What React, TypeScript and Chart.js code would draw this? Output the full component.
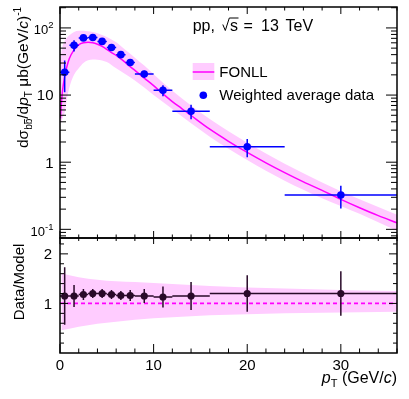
import React, { useEffect, useRef } from "react";
import { Chart, registerables } from "chart.js";

Chart.register(...registerables);

const W = 409;
const H = 399;
const FONT = '"Liberation Sans", Arial, Helvetica, sans-serif';
const BLUE = "#0000ff";
const MAGENTA = "#ff00ff";
const PINK = "#ffccff";
const DARK = "#2a0a2a";

// measured bins (GeV/c)
const binLow = [0, 1, 2, 3, 4, 5, 6, 7, 8, 10, 12, 16, 24];
const binHigh = [1, 2, 3, 4, 5, 6, 7, 8, 10, 12, 16, 24, 36];
const ptCenters = [0.5, 1.5, 2.5, 3.5, 4.5, 5.5, 6.5, 7.5, 9, 11, 14, 20, 30];

// weighted average data (µb (GeV/c)^-1)
const xsecValues = [21.9, 55, 71, 72, 63, 51, 40, 30.5, 20.6, 11.8, 5.75, 1.7, 0.325];
const xsecErrors = [10.9, 10.5, 6.6, 5.4, 4.7, 3.9, 3.1, 2.9, 2.5, 2.2, 1.4, 0.51, 0.12];

// data / model
const ratioValues = [1.15, 1.15, 1.18, 1.2, 1.2, 1.18, 1.16, 1.16, 1.15, 1.13, 1.15, 1.2, 1.2];
const ratioErrors = [0.58, 0.22, 0.11, 0.09, 0.09, 0.09, 0.09, 0.11, 0.14, 0.21, 0.28, 0.37, 0.45];

// FONLL central curve
const fonllPt = [0.05, 0.1, 0.25, 0.5, 0.75, 1, 1.5, 2, 2.5, 3, 3.5, 4, 4.5, 5, 5.5, 6, 6.5, 7, 7.5, 8, 9, 10, 11, 12, 13, 14, 16, 18, 20, 22, 24, 26, 28, 30, 32, 34, 36];
const fonllCentral = [4.5, 6, 11, 19, 27, 35, 47, 56, 60, 61, 60, 57, 53, 48, 43, 39, 34.7, 30.5, 26.5, 23.3, 17.9, 13.8, 10.4, 8.0, 6.3, 4.96, 3.1, 2.05, 1.4, 0.98, 0.7, 0.51, 0.38, 0.28, 0.21, 0.16, 0.125];

// FONLL uncertainty band
const bandPt = [0.05, 0.25, 0.5, 0.75, 1, 1.5, 2, 2.5, 3, 3.5, 4, 5, 6, 7, 8, 9, 10, 12, 14, 16, 20, 24, 28, 32, 36];
const bandUpper = [35, 52, 64, 72, 78, 87, 91, 91, 89, 87, 83, 73, 61, 47, 36, 27.5, 20.5, 11.6, 7.0, 4.4, 1.95, 0.95, 0.5, 0.28, 0.165];
const bandLower = [3.5, 4.5, 5.5, 9, 13, 20, 25, 30, 33, 34, 33.5, 31, 25, 20.5, 16.5, 13, 10, 6.2, 3.8, 2.4, 1.08, 0.53, 0.29, 0.17, 0.095];

// FONLL band relative to central
const ratioBandPt = [0.15, 1, 2, 3, 4, 5, 6, 8, 10, 12, 14, 16, 20, 24, 28, 32, 36];
const ratioBandUpper = [1.61, 1.57, 1.53, 1.5, 1.48, 1.46, 1.45, 1.43, 1.41, 1.39, 1.37, 1.35, 1.32, 1.3, 1.28, 1.26, 1.25];
const ratioBandLower = [0.46, 0.49, 0.53, 0.56, 0.59, 0.61, 0.63, 0.67, 0.7, 0.72, 0.74, 0.76, 0.78, 0.8, 0.81, 0.82, 0.83];

const xTickValues = [0, 10, 20, 30];
const ratioTickLabels = [1, 2];

type Run = { t: string; size: number; italic?: boolean; dy?: number; over?: boolean };

function drawRuns(ctx: CanvasRenderingContext2D, runs: Run[], x: number, y: number, draw = true) {
  let cx = x;
  ctx.textAlign = "left";
  ctx.textBaseline = "alphabetic";
  for (const r of runs) {
    ctx.font = `${r.italic ? "italic " : ""}${r.size}px ${FONT}`;
    const w = ctx.measureText(r.t).width;
    if (draw) {
      ctx.fillText(r.t, cx, y + (r.dy || 0));
      if (r.over) {
        ctx.fillRect(cx + 0.5, y + (r.dy || 0) - r.size * 0.8, w - 1, 0.9);
      }
    }
    cx += w;
  }
  return cx - x;
}

function line(ctx: CanvasRenderingContext2D, x1: number, y1: number, x2: number, y2: number) {
  ctx.moveTo(x1, y1);
  ctx.lineTo(x2, y2);
}

function drawErrorBars(chart: any, values: number[], errors: number[], color: string) {
  const { ctx, chartArea: a, scales } = chart;
  const x = scales.x;
  const y = scales.y;
  ctx.save();
  ctx.beginPath();
  ctx.rect(a.left, a.top, a.right - a.left, a.bottom - a.top);
  ctx.clip();
  ctx.strokeStyle = color;
  ctx.lineWidth = 1.5;
  ctx.beginPath();
  for (let i = 0; i < ptCenters.length; i++) {
    const px = x.getPixelForValue(ptCenters[i]);
    const py = y.getPixelForValue(values[i]);
    line(ctx, x.getPixelForValue(binLow[i]), py, x.getPixelForValue(binHigh[i]), py);
    line(ctx, px, y.getPixelForValue(values[i] + errors[i]), px, y.getPixelForValue(values[i] - errors[i]));
  }
  ctx.stroke();
  ctx.restore();
}

function drawXTicks(ctx: CanvasRenderingContext2D, chart: any, majB: number, minB: number, majT: number, minT: number) {
  const a = chart.chartArea;
  const x = chart.scales.x;
  for (let v = 0; v <= 36; v += 2) {
    const px = x.getPixelForValue(v);
    const major = v % 10 === 0;
    line(ctx, px, a.bottom, px, a.bottom - (major ? majB : minB));
    line(ctx, px, a.top, px, a.top + (major ? majT : minT));
  }
}

const topPlugin = {
  id: "topDecor",
  afterDatasetsDraw(chart: any) {
    drawErrorBars(chart, xsecValues, xsecErrors, BLUE);
  },
  afterDraw(chart: any) {
    const { ctx, chartArea: a, scales } = chart;
    const y = scales.y;
    ctx.save();
    ctx.strokeStyle = "#000";
    ctx.fillStyle = "#000";
    ctx.lineWidth = 1;
    ctx.beginPath();
    drawXTicks(ctx, chart, 7, 3.5, 7, 3.5);
    for (let d = -2; d <= 2; d++) {
      for (let m = 1; m <= 9; m++) {
        const v = m * Math.pow(10, d);
        if (v < y.min || v > y.max) continue;
        const py = y.getPixelForValue(v);
        const L = m === 1 ? 11 : 6;
        line(ctx, a.left, py, a.left + L, py);
        line(ctx, a.right, py, a.right - L, py);
      }
    }
    ctx.stroke();
    ctx.lineWidth = 1.5;
    ctx.strokeRect(a.left, a.top, a.right - a.left, a.bottom - a.top);

    // y tick labels
    ctx.textAlign = "right";
    ctx.textBaseline = "alphabetic";
    ctx.font = `15px ${FONT}`;
    ctx.fillText("1", 53.5, y.getPixelForValue(1) + 5.4);
    ctx.fillText("10", 53.5, y.getPixelForValue(10) + 5.4);
    const expLabel = (exp: string, v: number) => {
      const runs: Run[] = [
        { t: "10", size: 13 },
        { t: exp, size: 9.5, dy: -6 },
      ];
      const w = drawRuns(ctx, runs, 0, 0, false);
      drawRuns(ctx, runs, 53.5 - w, y.getPixelForValue(v) + 6.2);
    };
    expLabel("2", 100);
    expLabel("-1", 0.1);

    // y title (rotated)
    ctx.save();
    ctx.translate(28, 148);
    ctx.rotate(-Math.PI / 2);
    drawRuns(ctx, [
      { t: "dσ", size: 15.5 },
      { t: "b", size: 10, dy: 4 },
      { t: "b", size: 10, dy: 4, over: true },
      { t: "/d", size: 15.5 },
      { t: "p", size: 15.5, italic: true },
      { t: "T", size: 10, dy: 4 },
      { t: " μb(GeV/", size: 15.5 },
      { t: "c", size: 15.5, italic: true },
      { t: ")", size: 15.5 },
      { t: "-1", size: 10, dy: -7 },
    ], 0, 0);
    ctx.restore();

    // energy label
    ctx.font = `16px ${FONT}`;
    ctx.textAlign = "left";
    ctx.fillText("pp,", 192.7, 30.5);
    ctx.lineWidth = 1;
    ctx.beginPath();
    ctx.moveTo(222.8, 24.5);
    ctx.lineTo(225.3, 30.5);
    ctx.lineTo(229.3, 18);
    ctx.lineTo(238.5, 18);
    ctx.stroke();
    ctx.fillText("s", 230, 30.5);
    ctx.fillText("=", 243.5, 30.5);
    ctx.fillText("13", 261, 30.5);
    ctx.fillText("TeV", 285.5, 30.5);

    // legend
    ctx.fillStyle = PINK;
    ctx.fillRect(192.7, 63, 21.6, 17);
    ctx.strokeStyle = MAGENTA;
    ctx.lineWidth = 1.5;
    ctx.beginPath();
    ctx.moveTo(192.7, 72);
    ctx.lineTo(214.3, 72);
    ctx.stroke();
    ctx.fillStyle = BLUE;
    ctx.beginPath();
    ctx.arc(203.3, 95.3, 3.8, 0, Math.PI * 2);
    ctx.fill();
    ctx.fillStyle = "#000";
    ctx.font = `15px ${FONT}`;
    ctx.fillText("FONLL", 219.3, 76.8);
    ctx.fillText("Weighted average data", 219.3, 100.2);
    ctx.restore();
  },
};

const ratioPlugin = {
  id: "ratioDecor",
  afterDatasetsDraw(chart: any) {
    drawErrorBars(chart, ratioValues, ratioErrors, DARK);
  },
  afterDraw(chart: any) {
    const { ctx, chartArea: a, scales } = chart;
    const x = scales.x;
    const y = scales.y;
    ctx.save();
    ctx.strokeStyle = "#000";
    ctx.fillStyle = "#000";
    ctx.lineWidth = 1;
    ctx.beginPath();
    drawXTicks(ctx, chart, 9, 4.5, 6, 3);
    for (let k = 1; k <= 11; k++) {
      const v = k * 0.2;
      const py = y.getPixelForValue(v);
      const L = k % 5 === 0 ? 8 : 4;
      line(ctx, a.left, py, a.left + L, py);
      line(ctx, a.right, py, a.right - L, py);
    }
    ctx.stroke();
    ctx.lineWidth = 1.5;
    ctx.strokeRect(a.left, a.top, a.right - a.left, a.bottom - a.top);

    ctx.font = `15px ${FONT}`;
    ctx.textBaseline = "alphabetic";
    ctx.textAlign = "right";
    for (const v of ratioTickLabels) {
      ctx.fillText(String(v), 52, y.getPixelForValue(v) + 5.4);
    }
    ctx.textAlign = "center";
    for (const v of xTickValues) {
      ctx.fillText(String(v), x.getPixelForValue(v), 369.5);
    }

    // x title, right aligned
    const xRuns: Run[] = [
      { t: "p", size: 16, italic: true },
      { t: "T", size: 11, dy: 4 },
      { t: " (GeV/", size: 16 },
      { t: "c", size: 16, italic: true },
      { t: ")", size: 16 },
    ];
    const w = drawRuns(ctx, xRuns, 0, 0, false);
    drawRuns(ctx, xRuns, a.right - w, 383);

    // y title
    ctx.save();
    ctx.translate(24, 282);
    ctx.rotate(-Math.PI / 2);
    ctx.font = `15px ${FONT}`;
    ctx.textAlign = "center";
    ctx.fillText("Data/Model", 0, 0);
    ctx.restore();
    ctx.restore();
  },
};

function makeTopConfig(): any {
  return {
    type: "line",
    data: {
      datasets: [
        {
          label: "data",
          data: ptCenters.map((x, i) => ({ x, y: xsecValues[i] })),
          showLine: false,
          pointRadius: 3.8,
          pointBackgroundColor: BLUE,
          pointBorderColor: BLUE,
          pointBorderWidth: 0,
          order: 0,
        },
        {
          label: "FONLL",
          data: fonllPt.map((x, i) => ({ x, y: fonllCentral[i] })),
          borderColor: MAGENTA,
          borderWidth: 1.5,
          pointRadius: 0,
          cubicInterpolationMode: "monotone",
          fill: false,
          order: 1,
        },
        {
          label: "upper",
          data: bandPt.map((x, i) => ({ x, y: bandUpper[i] })),
          borderColor: "rgba(0,0,0,0)",
          borderWidth: 0,
          pointRadius: 0,
          backgroundColor: PINK,
          fill: "+1",
          cubicInterpolationMode: "monotone",
          order: 2,
        },
        {
          label: "lower",
          data: bandPt.map((x, i) => ({ x, y: bandLower[i] })),
          borderColor: "rgba(0,0,0,0)",
          borderWidth: 0,
          pointRadius: 0,
          fill: false,
          cubicInterpolationMode: "monotone",
          order: 3,
        },
      ],
    },
    options: {
      responsive: false,
      animation: false,
      events: [],
      layout: { padding: { left: 60, right: 12, top: 7, bottom: H - 238 } },
      scales: {
        x: { type: "linear", min: 0, max: 36, display: false },
        y: { type: "logarithmic", min: 0.0743, max: 205, display: false },
      },
      plugins: { legend: { display: false }, tooltip: { enabled: false } },
    },
    plugins: [topPlugin],
  };
}

function makeRatioConfig(): any {
  return {
    type: "line",
    data: {
      datasets: [
        {
          label: "ratio",
          data: ptCenters.map((x, i) => ({ x, y: ratioValues[i] })),
          showLine: false,
          pointRadius: 3.6,
          pointBackgroundColor: DARK,
          pointBorderColor: DARK,
          pointBorderWidth: 0,
          order: 0,
        },
        {
          label: "unity",
          data: [
            { x: 0, y: 1 },
            { x: 36, y: 1 },
          ],
          borderColor: MAGENTA,
          borderWidth: 1.7,
          borderDash: [4, 3],
          pointRadius: 0,
          fill: false,
          order: 1,
        },
        {
          label: "bandUp",
          data: ratioBandPt.map((x, i) => ({ x, y: ratioBandUpper[i] })),
          borderColor: "rgba(0,0,0,0)",
          borderWidth: 0,
          pointRadius: 0,
          backgroundColor: PINK,
          fill: "+1",
          cubicInterpolationMode: "monotone",
          order: 2,
        },
        {
          label: "bandLow",
          data: ratioBandPt.map((x, i) => ({ x, y: ratioBandLower[i] })),
          borderColor: "rgba(0,0,0,0)",
          borderWidth: 0,
          pointRadius: 0,
          fill: false,
          cubicInterpolationMode: "monotone",
          order: 3,
        },
      ],
    },
    options: {
      responsive: false,
      animation: false,
      events: [],
      layout: { padding: { left: 60, right: 12, top: 238, bottom: H - 353 } },
      scales: {
        x: { type: "linear", min: 0, max: 36, display: false },
        y: { type: "linear", min: 0, max: 2.32, display: false },
      },
      plugins: { legend: { display: false }, tooltip: { enabled: false } },
    },
    plugins: [ratioPlugin],
  };
}

export default function App() {
  const topRef = useRef<HTMLCanvasElement>(null);
  const botRef = useRef<HTMLCanvasElement>(null);
  useEffect(() => {
    const c1 = new Chart(topRef.current as HTMLCanvasElement, makeTopConfig());
    const c2 = new Chart(botRef.current as HTMLCanvasElement, makeRatioConfig());
    return () => {
      c1.destroy();
      c2.destroy();
    };
  }, []);
  return (
    <div style={{ position: "fixed", left: 0, top: 0, width: W, height: H, background: "#fff" }}>
      <canvas ref={topRef} width={W} height={H} style={{ position: "absolute", left: 0, top: 0 }} />
      <canvas ref={botRef} width={W} height={H} style={{ position: "absolute", left: 0, top: 0 }} />
    </div>
  );
}
